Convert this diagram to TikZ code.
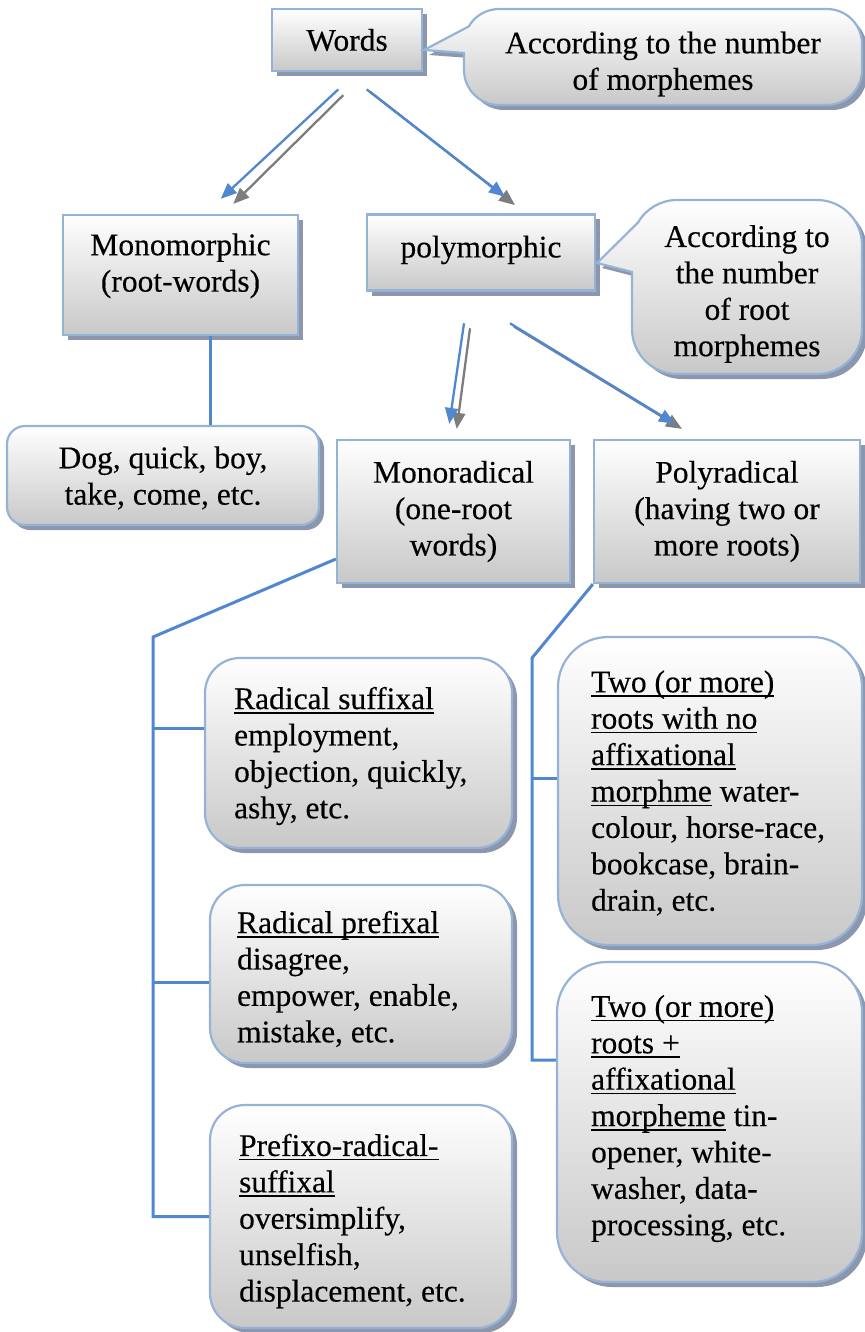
\documentclass[tikz,border=0pt]{standalone}
\usepackage{fontspec}
\setmainfont{Liberation Serif}[FakeBold=0.3]
\usetikzlibrary{arrows.meta,shadows,calc}
\definecolor{boxblue}{RGB}{149,179,215}
\definecolor{linkblue}{RGB}{80,135,208}
\definecolor{shadowc}{RGB}{140,150,172}
\definecolor{arrowgray}{RGB}{125,125,125}
\newcommand{\bodyfont}{\fontsize{31.5}{36.4}\selectfont}
% underlined phrase: a rule of fixed depth under the word box
\newcommand{\undl}[1]{\setbox0=\hbox{#1}\rlap{\rule[-4.5pt]{\wd0}{1.5pt}}\box0\relax}

\begin{document}
\begin{tikzpicture}[x=1pt, y=1pt,
  every node/.style={font=\bodyfont, inner sep=0pt},
  boxshadow/.style={drop shadow={shadow xshift=5pt, shadow yshift=-5pt, fill=shadowc, opacity=1}},
  panel/.style={draw=boxblue, line width=2.2pt, top color=white, bottom color=gray!43, boxshadow},
  sqbox/.style={panel, align=center},
  rbox/.style={panel, rounded corners=#1},
  bodytext/.style={align=left, anchor=west},
  link/.style={draw=linkblue, line width=3pt},
  bluearrow/.style={draw=linkblue, line width=2.3pt, -{Triangle[length=16pt,width=13pt]}},
  grayarrow/.style={draw=arrowgray, line width=2.3pt, -{Triangle[length=16pt,width=13pt]}}
]
\useasboundingbox (0,0) rectangle (864,-1332);

% ---------- top level ----------
\node[sqbox, minimum width=150pt, minimum height=62pt] (words) at (347,-40) {Words};

\path[panel] ([shift={(150:35)}]499,-44) arc[start angle=150,end angle=90,radius=35]
  -- (827,-9) arc[start angle=90,end angle=0,radius=35]
  -- (862,-70) arc[start angle=0,end angle=-90,radius=35]
  -- (499,-105) arc[start angle=270,end angle=180,radius=35]
  -- (464,-53) -- (424,-50) -- cycle;
\node[align=center] (note1) at (663,-64) {According to the number\\of morphemes};

% ---------- second level ----------
\node[sqbox, minimum width=235pt, minimum height=120pt, text depth=25pt] (mono) at (180.5,-275) {Monomorphic\\(root-words)};
\node[sqbox, minimum width=228pt, minimum height=76pt, text depth=12pt] (poly) at (481,-252.5) {polymorphic};

\path[panel] ([shift={(150:45)}]677,-245) arc[start angle=150,end angle=90,radius=45]
  -- (817,-200) arc[start angle=90,end angle=0,radius=45]
  -- (862,-329) arc[start angle=0,end angle=-90,radius=45]
  -- (677,-374) arc[start angle=270,end angle=180,radius=45]
  -- (632,-272) -- (597,-263) -- cycle;
\node[align=center] (note2) at (747,-294) {According to\\the number\\of root\\morphemes};

\node[rbox=18pt, align=center, minimum width=312pt, minimum height=99pt, text depth=-13pt] (dog) at (163,-475.5) {Dog, quick, boy,\\take, come, etc.};

% ---------- third level ----------
\node[sqbox, minimum width=233pt, minimum height=143pt] (monorad) at (453.5,-511.5) {Monoradical\\(one-root\\words)};
\node[sqbox, minimum width=266pt, minimum height=143pt] (polyrad) at (727,-511.5) {Polyradical\\(having two or\\more roots)};

% ---------- leaves, one-root side ----------
\node[rbox=35pt, minimum width=307pt, minimum height=190pt] (rsuf) at (358.5,-753) {};
\node[bodytext] (rsuf text) at ([xshift=30pt,yshift=-3pt]rsuf.west) {\undl{Radical suffixal}\\employment,\\objection, quickly,\\ashy, etc.};

\node[rbox=35pt, minimum width=302pt, minimum height=178pt] (rpre) at (361,-974) {};
\node[bodytext] (rpre text) at ([xshift=28pt,yshift=-5pt]rpre.west) {\undl{Radical prefixal}\\disagree,\\empower, enable,\\mistake, etc.};

\node[rbox=35pt, minimum width=302pt, minimum height=223pt] (pref) at (361,-1216.5) {};
\node[bodytext] (pref text) at ([xshift=30pt,yshift=-4.5pt]pref.west) {\undl{Prefixo-radical-}\\\undl{suffixal}\\oversimplify,\\unselfish,\\displacement, etc.};

% ---------- leaves, many-root side ----------
\node[rbox=50pt, minimum width=304pt, minimum height=308pt] (two1) at (710,-791) {};
\node[bodytext] (two1 text) at ([xshift=34pt,yshift=-2pt]two1.west) {\undl{Two (or more)}\\\undl{roots with no}\\\undl{affixational}\\\undl{morphme} water-\\colour, horse-race,\\bookcase, brain-\\drain, etc.};

\node[rbox=50pt, minimum width=305pt, minimum height=320pt] (two2) at (709.5,-1122) {};
\node[bodytext] (two2 text) at ([xshift=35pt,yshift=3.5pt]two2.west) {\undl{Two (or more)}\\\undl{roots +}\\\undl{affixational}\\\undl{morpheme} tin-\\opener, white-\\washer, data-\\processing, etc.};

% ---------- arrows ----------
\draw[grayarrow] ([shift={(-3.7,-23)}]words.south) -- ([shift={(52.8,10)}]mono.north);
\draw[bluearrow] ([shift={(-8.7,-17.3)}]words.south) -- ([shift={(40.2,15)}]mono.north);
\draw[grayarrow] ([shift={(23.5,-20)}]words.south) -- ([shift={(34,8.3)}]poly.north);
\draw[bluearrow] ([shift={(19.7,-17.3)}]words.south) -- ([shift={(24,16.7)}]poly.north);

\draw[grayarrow] ([shift={(-11,-36.7)}]poly.south) -- ([shift={(3.2,10)}]monorad.north);
\draw[bluearrow] ([shift={(-17,-31.7)}]poly.south) -- ([shift={(-4.2,15)}]monorad.north);
\draw[grayarrow] ([shift={(33,-35)}]poly.south) -- ([shift={(-45,10)}]polyrad.north);
\draw[bluearrow] ([shift={(29,-31.7)}]poly.south) -- ([shift={(-52,15)}]polyrad.north);

% ---------- tree lines ----------
\coordinate (dogx) at (210,0);
\draw[link] (mono.south -| dogx) -- (dog.north -| dogx);

\coordinate (mbend) at (153,-637);
\coordinate (rowa) at (0,-728);
\coordinate (rowb) at (0,-982);
\draw[link] ([yshift=-47.5pt]monorad.west) -- (mbend) -- (mbend |- pref.west) -- (pref.west);
\draw[link] (mbend |- rowa) -- (rsuf.west |- rowa);
\draw[link] (mbend |- rowb) -- (rpre.west |- rowb);

\coordinate (pbend) at (532,-658);
\coordinate (rowc) at (0,-778);
\coordinate (rowd) at (0,-1060);
\draw[link] (polyrad.south west) -- (pbend) -- (pbend |- rowd) -- (two2.west |- rowd);
\draw[link] (pbend |- rowc) -- (two1.west |- rowc);
\end{tikzpicture}
\end{document}
